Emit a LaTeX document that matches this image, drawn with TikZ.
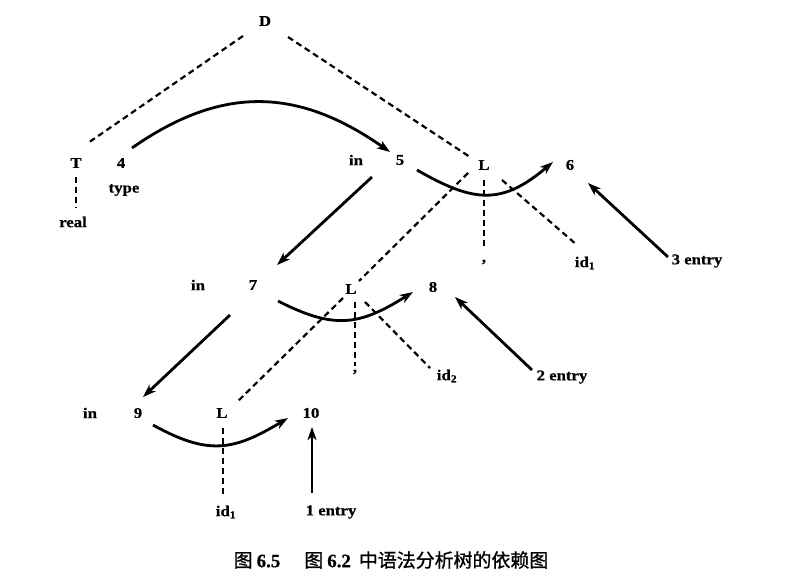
\documentclass[tikz,border=0pt]{standalone}
\usepackage{fontspec}
\setmainfont[FakeStretch=1.12, BoldFeatures={FakeBold=0.6}]{Liberation Serif}
\newfontfamily\capnum[FakeBold=0.6]{Liberation Serif Bold}
\newfontfamily\cjk[FakeBold=1]{Noto Sans CJK SC}
\usetikzlibrary{arrows.meta,calc}
\tikzset{
  lbl/.style={font=\fontsize{15}{15}\selectfont\bfseries, inner sep=0pt},
  dsh/.style={dash pattern=on 6bp off 4bp, line width=2.2bp},
  arr/.style={line width=2.8bp, -{Stealth[length=13bp,width=9bp,inset=3.5bp]}},
}
\begin{document}
\begin{tikzpicture}[x=1bp,y=1bp]
\useasboundingbox (0,0) rectangle (797,-585);
% nodes
\node[lbl] (D)    at (265,-21)  {D};
\node[lbl] (T)    at (76,-163)  {T};
\node[lbl] (n4)   at (121,-163) {4};
\node[lbl] (type) at (124,-190) {type};
\node[lbl] (real) at (73,-222)  {real};
\node[lbl] (in1)  at (356,-160) {in};
\node[lbl] (n5)   at (400,-160) {5};
\node[lbl] (L1)   at (484,-165) {L};
\node[lbl] (n6)   at (570,-165) {6};
\node[lbl] (c1)   at (484,-262) {,};
\node[lbl] (id1a) at (585,-263) {id\textsubscript{1}};
\node[lbl] (e3)   at (697,-261) {3 entry};
\node[lbl] (in2)  at (198,-285) {in};
\node[lbl] (n7)   at (253,-285) {7};
\node[lbl] (L2)   at (351,-289) {L};
\node[lbl] (n8)   at (433,-287) {8};
\node[lbl] (c2)   at (355,-372) {,};
\node[lbl] (id2)  at (447,-376) {id\textsubscript{2}};
\node[lbl] (e2)   at (562,-377) {2 entry};
\node[lbl] (in3)  at (90,-413)  {in};
\node[lbl] (n9)   at (138,-413) {9};
\node[lbl] (L3)   at (222,-413) {L};
\node[lbl] (n10)  at (311,-413) {10};
\node[lbl] (id1b) at (226,-512) {id\textsubscript{1}};
\node[lbl] (e1)   at (331,-512) {1 entry};
\node[inner sep=0pt, font=\fontsize{19}{19}\selectfont] (cap) at (391,-560)
  {{\cjk 图}\hspace{4bp}{\capnum 6.5}\hspace{24bp}{\cjk 图}\hspace{4bp}{\capnum 6.2}\hspace{8bp}{\cjk 中语法分析树的依赖图}};
% dashed tree edges
\draw[dsh] ($(D)+(-22,-15)$) -- ($(T)+(12,20)$);
\draw[dsh] ($(D)+(23,-16)$) -- ($(L1)+(-14,8)$);
\draw[dsh] ($(T)+(0,-14)$) -- ($(real)+(3,14)$);
\draw[dsh] ($(L1)+(0,-15)$) -- ($(c1)+(0,12)$);
\draw[dsh] ($(L1)+(18,-15)$) -- ($(id1a)+(-8,18)$);
\draw[dsh] ($(L1)+(-16,-8)$) -- ($(L2)+(8,8)$);
\draw[dsh] ($(L2)+(4,-13)$) -- ($(c2)+(0,6)$);
\draw[dsh] ($(L2)+(14,-13)$) -- ($(id2)+(-17,8)$);
\draw[dsh] ($(L2)+(-8,-9)$) -- ($(L3)+(15,11)$);
\draw[dsh] ($(L3)+(1,-15)$) -- ($(id1b)+(-3,15)$);
% dependency arrows
\draw[arr] ($(n4)+(11,15)$) to[out=35,in=145,looseness=1.1] ($(n5)+(-10,8)$);
\draw[arr] ($(n5)+(17,-10)$) to[out=-30,in=-140,looseness=1.25] ($(n6)+(-17,3)$);
\draw[arr] ($(n5)+(-28,-17)$) -- ($(n7)+(24,20)$);
\draw[arr] ($(e3)+(-29,4)$) -- ($(n6)+(18,-18)$);
\draw[arr] ($(n7)+(25,-16)$) to[out=-27,in=-148,looseness=1.2] ($(n8)+(-20,-5)$);
\draw[arr] ($(n7)+(-23,-30)$) -- ($(n9)+(5,16)$);
\draw[arr] ($(e2)+(-30,7)$) -- ($(n8)+(22,-10)$);
\draw[arr] ($(n9)+(15,-12)$) to[out=-29,in=-149,looseness=1.2] ($(n10)+(-23,-5)$);
\draw[arr] ($(e1)+(-19,19)$) -- ($(n10)+(1,-14)$);
\end{tikzpicture}
\end{document}
